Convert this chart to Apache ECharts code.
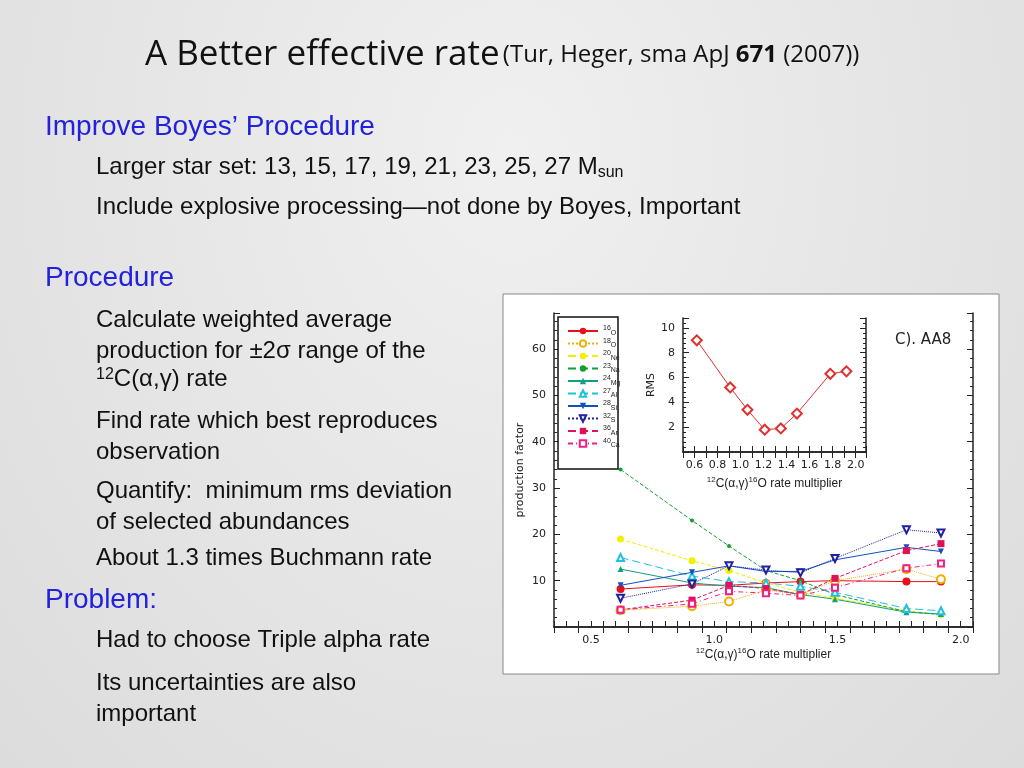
<!DOCTYPE html>
<html><head><meta charset="utf-8">
<script src="https://cdn.jsdelivr.net/npm/echarts@6/dist/echarts.min.js"></script>
<style>html,body{margin:0;padding:0;background:radial-gradient(ellipse at 50% 20%,#f0f0f0,#dcdcdc);}#c{width:1024px;height:768px;}</style>
</head><body><div id="c"></div>
<script>
const multipliers = [0.62, 0.91, 1.06, 1.21, 1.35, 1.49, 1.78, 1.92];
const O16  = [8.2, 9.1, 9.0, 9.5, 9.8, 10.0, 9.8, 9.8];
const O18  = [3.6, 4.5, 5.5, 8.0, 7.0, 10.0, 12.5, 10.3];
const Ne20 = [19.0, 14.3, 12.2, 9.5, 7.5, 6.2, 3.5, 2.7];
const Na23 = [34.0, 23.0, 17.5, 12.2, 10.0, 7.0, 3.3, 2.7];
const Mg24 = [12.5, 9.5, 8.8, 8.5, 7.0, 6.0, 3.2, 2.8];
const Al27 = [15.0, 11.0, 9.8, 9.5, 8.8, 7.5, 4.0, 3.5];
const Si28 = [9.0, 11.8, 13.2, 12.0, 12.0, 14.5, 17.2, 16.3];
const S32  = [6.2, 9.3, 13.2, 12.3, 11.7, 14.8, 21.0, 20.3];
const Ar36 = [3.7, 5.8, 9.0, 8.3, 7.0, 10.5, 16.5, 18.0];
const Ca40 = [3.7, 5.0, 7.7, 7.3, 6.8, 8.5, 12.7, 13.7];
const rms  = [9.0, 5.2, 3.4, 1.8, 1.9, 3.1, 6.3, 6.5];
const isotopes = [['16','O'],['18','O'],['20','Ne'],['23','Na'],['24','Mg'],['27','Al'],['28','Si'],['32','S'],['36','Ar'],['40','Ca']];

const chart = echarts.init(document.getElementById('c'));
const pair = a => multipliers.map((x,i)=>[x,a[i]]);
const defs = [
 [O16,'#e8101a','circle',0,'solid',8],
 [O18,'#f0b000','emptyCircle',0,'dotted',8],
 [Ne20,'#f0f000','circle',0,'dashed',7],
 [Na23,'#10a030','circle',0,'dashed',4],
 [Mg24,'#10a080','triangle',0,'solid',6],
 [Al27,'#20c0e0','emptyTriangle',0,[8,4],7],
 [Si28,'#1050c0','triangle',180,'solid',6],
 [S32,'#2020a0','emptyTriangle',180,'dotted',7],
 [Ar36,'#e0105a','rect',0,'dashed',7],
 [Ca40,'#f02080','emptyRect',0,[5,3,1,3],6]
];
const names = isotopes.map(i=>i[0]+i[1]);
const series = defs.map((d,i)=>({name:names[i],type:'line',xAxisIndex:0,yAxisIndex:0,data:pair(d[0]),
  symbol:d[2],symbolRotate:d[3],symbolSize:d[5],lineStyle:{color:d[1],width:1,type:d[4]},itemStyle:{color:d[1]}}));
series.push({type:'line',xAxisIndex:2,yAxisIndex:2,data:pair(rms),symbol:'emptyRect',symbolRotate:45,symbolSize:7,
  lineStyle:{color:'#e03030',width:1},itemStyle:{color:'#e03030'}});
const ax = (extra)=>Object.assign({axisLine:{show:true,lineStyle:{color:'#222',width:1.5}},axisTick:{inside:true,length:6,lineStyle:{color:'#222'}},
  minorTick:{show:false},splitLine:{show:false},axisLabel:{color:'#222',fontSize:11,fontFamily:'DejaVu Sans'}},extra);
const yax = (extra)=>Object.assign(ax({}),{minorTick:{show:true,length:3,lineStyle:{color:'#222'}}},extra);
const sup = {s:{fontSize:8,verticalAlign:'top',color:'#222',padding:[0,0,8,0]},t:{fontSize:12,color:'#222'}};
const near = (v,list)=>list.some(l=>Math.abs(v-l)<1e-6);
const F = 'Liberation Sans';
chart.setOption({
 animation:false,
 graphic:[
  {type:'rect',shape:{x:503,y:294,width:496,height:380},style:{fill:'#fff',stroke:'#888',lineWidth:1},z:-10},
  {type:'text',left:145,top:38,style:{rich:{a:{fontSize:35,fontFamily:'Open Sans',fill:'#111'},b:{fontSize:24,fontFamily:'Open Sans',fill:'#111'},c:{fontSize:24,fontWeight:'bold',fontFamily:'Open Sans',fill:'#111'}},
    text:'{a|A Better effective rate} {b|(Tur, Heger, sma ApJ }{c|671}{b| (2007))}'}},
  {type:'text',left:45,top:113,style:{text:"Improve Boyes’ Procedure",fontSize:28,fontFamily:F,fill:'#2222dd'}},
  {type:'text',left:96,top:155,style:{rich:{a:{fontSize:24,fontFamily:F,fill:'#111'},b:{fontSize:16,fontFamily:F,fill:'#111',padding:[11,0,0,0]}},text:'{a|Larger star set: 13, 15, 17, 19, 21, 23, 25, 27 M}{b|sun}'}},
  {type:'text',left:96,top:195,style:{text:'Include explosive processing—not done by Boyes, Important',fontSize:24,fontFamily:F,fill:'#111'}},
  {type:'text',left:45,top:264,style:{text:'Procedure',fontSize:28,fontFamily:F,fill:'#2222dd'}},
  {type:'text',left:96,top:305,style:{text:'Calculate weighted average\nproduction for ±2σ range of the',fontSize:24,lineHeight:31,fontFamily:F,fill:'#111'}},
  {type:'text',left:96,top:367,style:{rich:{a:{fontSize:24,fontFamily:F,fill:'#111'},b:{fontSize:16,fontFamily:F,fill:'#111',padding:[0,0,9,0]}},text:'{b|12}{a|C(α,γ) rate}'}},
  {type:'text',left:96,top:406,style:{text:'Find rate which best reproduces\nobservation',fontSize:24,lineHeight:31,fontFamily:F,fill:'#111'}},
  {type:'text',left:96,top:476,style:{text:'Quantify:  minimum rms deviation\nof selected abundances',fontSize:24,lineHeight:31,fontFamily:F,fill:'#111'}},
  {type:'text',left:96,top:546,style:{text:'About 1.3 times Buchmann rate',fontSize:24,fontFamily:F,fill:'#111'}},
  {type:'text',left:45,top:586,style:{text:'Problem:',fontSize:28,fontFamily:F,fill:'#2222dd'}},
  {type:'text',left:96,top:628,style:{text:'Had to choose Triple alpha rate',fontSize:24,fontFamily:F,fill:'#111'}},
  {type:'text',left:96,top:668,style:{text:'Its uncertainties are also\nimportant',fontSize:24,lineHeight:31,fontFamily:F,fill:'#111'}},
  {type:'rect',shape:{x:558,y:317,width:60,height:152},style:{fill:'#fff',stroke:'#111',lineWidth:1.5},z:5},
  {type:'text',left:895,top:333,style:{text:'C). AA8',fontSize:15,fontFamily:'DejaVu Sans',fill:'#222'},z:10}
 ],
 legend:{orient:'vertical',left:562,top:320,itemGap:1,itemWidth:30,itemHeight:8,z:10,
   data:names,formatter:n=>{const i=names.indexOf(n);return '{s|'+isotopes[i][0]+'}{t|'+isotopes[i][1]+'}';},
   textStyle:{rich:{s:{fontSize:7,color:'#222',padding:[0,0,5,0]},t:{fontSize:7,color:'#222',padding:[4,0,0,0]}}}},
 grid:[{left:554,top:313,width:419,height:314},{left:683,top:318,width:183,height:134,z:6}],
 xAxis:[
  ax({type:'value',gridIndex:0,min:0.35,max:2.05,interval:0.05,axisTick:{inside:true,length:6,lineStyle:{color:'#222'},interval:1},
    axisLabel:{color:'#222',fontSize:11,fontFamily:'DejaVu Sans',formatter:v=>near(v,[0.5,1,1.5,2])?(+v).toFixed(1):''},
    name:'{s|12}{t|C(α,γ)}{s|16}{t|O rate multiplier}',nameLocation:'middle',nameGap:20,nameTextStyle:{rich:sup}}),
  ax({type:'value',gridIndex:0,position:'top',min:0.35,max:2.05,interval:0.1,axisLabel:{show:false}}),
  ax({type:'value',gridIndex:1,min:0.5,max:2.09,interval:0.1,axisLabel:{color:'#222',fontSize:11,fontFamily:'DejaVu Sans',
    formatter:v=>near(v,[0.6,0.8,1,1.2,1.4,1.6,1.8,2])?(+v).toFixed(1):''},
    name:'{s|12}{t|C(α,γ)}{s|16}{t|O rate multiplier}',nameLocation:'middle',nameGap:24,nameTextStyle:{rich:sup}}),
  ax({type:'value',gridIndex:1,position:'top',min:0.5,max:2.09,interval:0.1,axisLabel:{show:false}})
 ],
 yAxis:[
  yax({type:'value',gridIndex:0,min:0,max:67.8,interval:10,axisLabel:{color:'#222',fontSize:11,fontFamily:'DejaVu Sans',formatter:v=>v>=10&&v<=60?String(v):''},
    name:'production factor',nameLocation:'middle',nameGap:28,nameTextStyle:{color:'#222',fontSize:11,fontFamily:'DejaVu Sans'}}),
  yax({type:'value',gridIndex:0,position:'right',min:0,max:67.8,interval:10,axisLabel:{show:false}}),
  yax({type:'value',gridIndex:1,min:0,max:10.8,interval:2,axisLabel:{color:'#222',fontSize:11,fontFamily:'DejaVu Sans',formatter:v=>v>=2&&v<=10?String(v):''},
    name:'RMS',nameLocation:'middle',nameGap:22,nameTextStyle:{color:'#222',fontSize:11,fontFamily:'DejaVu Sans'}}),
  yax({type:'value',gridIndex:1,position:'right',min:0,max:10.8,interval:2,axisLabel:{show:false}})
 ],
 series:series
});
</script></body></html>
